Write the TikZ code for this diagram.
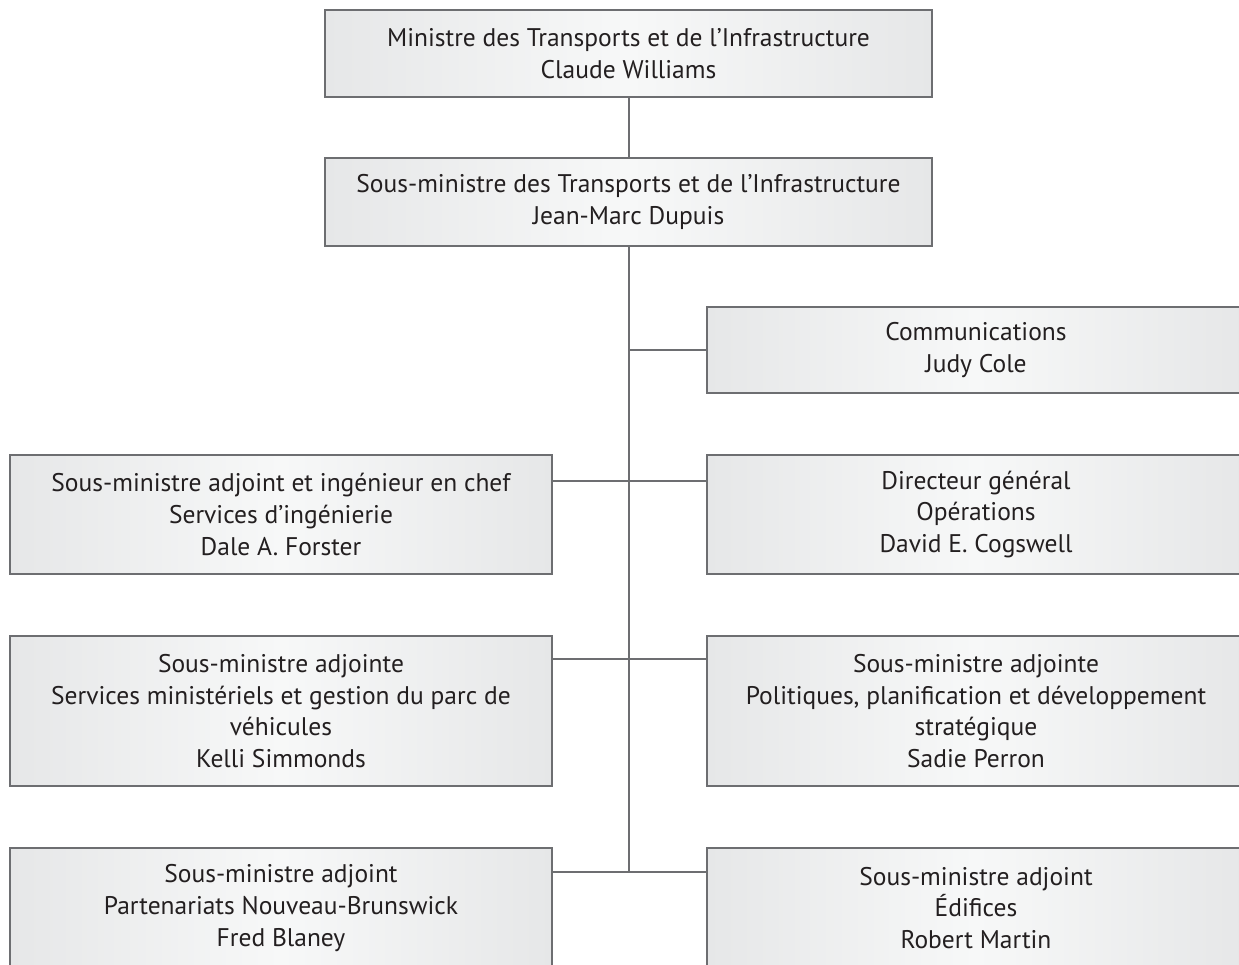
\documentclass[tikz,border=0pt]{standalone}
\usepackage{fontspec}
\setmainfont{PT Sans}
\definecolor{bordercol}{HTML}{6D6E71}
\definecolor{textcol}{HTML}{231F20}
\definecolor{boxedge}{HTML}{E6E7E8}
\definecolor{boxmid}{HTML}{F7F8F8}
\tikzset{
  orgbox/.style={draw=bordercol, line width=2.4pt, left color=boxedge, right color=boxedge, middle color=boxmid,
    align=center, inner sep=0pt, text=textcol, font=\fontsize{25.5}{31.8}\selectfont},
  link/.style={draw=bordercol, line width=2.4pt}
}
\begin{document}
\begin{tikzpicture}[x=1pt, y=-1pt]
\useasboundingbox (0,0) rectangle (1239,965);
\clip (0,0) rectangle (1239,965);
% top boxes
\node[orgbox, minimum width=607pt, minimum height=87pt] (min) at (628.5,53.5) {Ministre des Transports et de l’Infrastructure\\Claude Williams};
\node[orgbox, minimum width=607pt, minimum height=88pt] (sm) at (628.5,202) {Sous-ministre des Transports et de l’Infrastructure\\Jean-Marc Dupuis};
% right column
\node[orgbox, minimum width=538pt, minimum height=86pt] (comm) at (976,350) {Communications\\Judy Cole};
\node[orgbox, minimum width=538pt, minimum height=119pt] (dg) at (976,514.5) {Directeur général\\Opérations\\David E. Cogswell};
\node[orgbox, minimum width=538pt, minimum height=150pt] (pol) at (976,711) {Sous-ministre adjointe\\Politiques, planification et développement\\stratégique\\Sadie Perron};
\node[orgbox, minimum width=538pt, minimum height=120pt] (edi) at (976,908) {Sous-ministre adjoint\\Édifices\\Robert Martin};
% left column
\node[orgbox, minimum width=542pt, minimum height=119pt] (ing) at (281,514.5) {Sous-ministre adjoint et ingénieur en chef\\Services d’ingénierie\\Dale A. Forster};
\node[orgbox, minimum width=542pt, minimum height=150pt] (serv) at (281,711) {Sous-ministre adjointe\\Services ministériels et gestion du parc de\\véhicules\\Kelli Simmonds};
\node[orgbox, minimum width=542pt, minimum height=120pt] (part) at (281,908) {Sous-ministre adjoint\\Partenariats Nouveau-Brunswick\\Fred Blaney};
% junction coordinates on the trunk
\coordinate (jc) at (629,350);
\coordinate (j2) at (629,481);
\coordinate (j3) at (629,659);
\coordinate (j4) at (629,872);
% connectors
\draw[link] (min.south -| jc) -- (sm.north -| jc);
\draw[link] (sm.south -| jc) -- (j4);
\draw[link] (jc) -- (comm.west |- jc);
\draw[link] (ing.east |- j2) -- (dg.west |- j2);
\draw[link] (serv.east |- j3) -- (pol.west |- j3);
\draw[link] (part.east |- j4) -- (edi.west |- j4);
\end{tikzpicture}
\end{document}
